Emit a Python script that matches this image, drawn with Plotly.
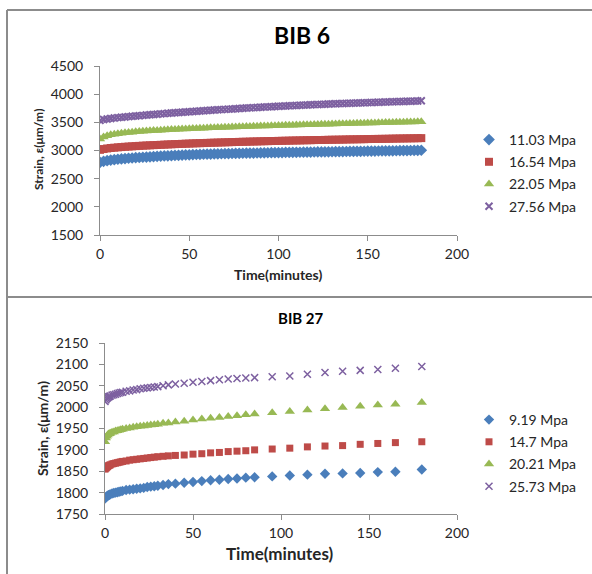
import plotly.graph_objects as go

W, H = 592, 574

# ---------------- BIB 6 data ----------------
time_bib6 = [0, 2, 4, 6, 8, 10, 12, 14, 16, 18, 20, 22, 24, 26, 28, 30, 32, 34, 36, 38,
             40, 42, 44, 46, 48, 50, 52, 54, 56, 58, 60, 62, 64, 66, 68, 70, 72, 74, 76, 78,
             80, 82, 84, 86, 88, 90, 92, 94, 96, 98, 100, 102, 104, 106, 108, 110, 112, 114, 116, 118,
             120, 122, 124, 126, 128, 130, 132, 134, 136, 138, 140, 142, 144, 146, 148, 150, 152, 154, 156, 158,
             160, 162, 164, 166, 168, 170, 172, 174, 176, 178, 180]

strain_11_03 = [2790, 2808, 2820, 2830, 2838, 2845, 2851, 2857, 2862, 2867, 2872, 2876, 2880, 2884, 2888, 2892, 2896, 2899, 2903, 2906,
                2909, 2912, 2915, 2918, 2921, 2924, 2927, 2929, 2931, 2933, 2935, 2937, 2939, 2940, 2942, 2944, 2945, 2947, 2948, 2950,
                2951, 2952, 2954, 2955, 2956, 2957, 2959, 2960, 2961, 2962, 2963, 2964, 2965, 2966, 2967, 2968, 2969, 2970, 2971, 2972,
                2973, 2974, 2975, 2976, 2977, 2978, 2979, 2980, 2981, 2982, 2983, 2984, 2985, 2986, 2987, 2988, 2989, 2990, 2991, 2992,
                2993, 2994, 2995, 2996, 2997, 2998, 2999, 3000, 3001, 3002, 3004]

strain_16_54 = [3012, 3026, 3036, 3044, 3050, 3056, 3061, 3066, 3070, 3074, 3078, 3082, 3086, 3089, 3092, 3095, 3098, 3101, 3104, 3107,
                3110, 3113, 3116, 3118, 3121, 3123, 3126, 3128, 3130, 3132, 3135, 3137, 3139, 3141, 3143, 3145, 3147, 3149, 3151, 3153,
                3155, 3156, 3158, 3160, 3161, 3163, 3165, 3166, 3168, 3169, 3171, 3172, 3174, 3175, 3177, 3178, 3179, 3181, 3182, 3183,
                3185, 3186, 3187, 3188, 3190, 3191, 3192, 3193, 3194, 3196, 3197, 3198, 3199, 3200, 3201, 3203, 3204, 3205, 3206, 3207,
                3208, 3209, 3211, 3212, 3213, 3214, 3215, 3216, 3217, 3218, 3220]

strain_22_05 = [3205, 3240, 3262, 3278, 3290, 3299, 3307, 3314, 3320, 3326, 3331, 3336, 3341, 3345, 3349, 3353, 3357, 3361, 3364, 3368,
                3371, 3374, 3377, 3380, 3383, 3386, 3389, 3392, 3395, 3397, 3400, 3402, 3405, 3407, 3410, 3412, 3414, 3416, 3419, 3421,
                3423, 3425, 3427, 3429, 3431, 3433, 3435, 3437, 3439, 3441, 3443, 3445, 3447, 3448, 3450, 3452, 3454, 3456, 3457, 3459,
                3461, 3463, 3465, 3466, 3468, 3470, 3472, 3474, 3475, 3477, 3479, 3480, 3482, 3484, 3485, 3487, 3489, 3490, 3492, 3493,
                3495, 3497, 3498, 3500, 3501, 3503, 3505, 3506, 3508, 3509, 3512]

strain_27_56 = [3535, 3550, 3560, 3568, 3576, 3583, 3589, 3595, 3601, 3607, 3613, 3618, 3624, 3629, 3635, 3640, 3645, 3650, 3655, 3660,
                3665, 3670, 3674, 3679, 3683, 3688, 3692, 3697, 3701, 3706, 3710, 3714, 3718, 3722, 3726, 3730, 3734, 3738, 3742, 3746,
                3750, 3754, 3757, 3761, 3764, 3768, 3771, 3775, 3778, 3782, 3785, 3788, 3791, 3794, 3797, 3800, 3803, 3806, 3808, 3811,
                3814, 3817, 3819, 3822, 3824, 3827, 3829, 3832, 3834, 3837, 3839, 3841, 3844, 3846, 3848, 3850, 3852, 3854, 3857, 3859,
                3861, 3863, 3865, 3867, 3869, 3871, 3873, 3875, 3877, 3879, 3882]

# ---------------- BIB 27 data ----------------
time_bib27 = [0, 0.5, 1, 1.5, 2, 2.5, 3, 4, 5, 6, 7, 8, 9, 10, 12, 14, 16, 18, 20, 22, 24, 26, 28, 30,
              33, 36, 40, 45, 50, 55, 60, 65, 70, 75, 80, 85, 95, 105, 115, 125, 135, 145, 155, 165, 180]

strain_9_19 = [1786, 1789, 1791, 1793, 1794, 1795, 1796, 1798, 1799, 1800, 1801, 1802, 1803, 1804, 1806, 1807, 1808, 1809, 1810, 1811,
               1813, 1814, 1815, 1816, 1818, 1820, 1821, 1823, 1825, 1827, 1829, 1830, 1832, 1833, 1835, 1836, 1838, 1840, 1842, 1844,
               1845, 1846, 1848, 1849, 1854]

strain_14_7 = [1855, 1857, 1859, 1861, 1863, 1864, 1865, 1867, 1868, 1869, 1870, 1871, 1872, 1873, 1874, 1876, 1877, 1878, 1879, 1880,
               1881, 1882, 1883, 1884, 1885, 1886, 1887, 1888, 1890, 1891, 1893, 1894, 1896, 1897, 1898, 1900, 1902, 1904, 1907, 1909,
               1910, 1913, 1915, 1917, 1919]

strain_20_21 = [1919, 1928, 1932, 1935, 1937, 1938, 1939, 1941, 1942, 1944, 1945, 1946, 1947, 1948, 1950, 1951, 1953, 1954, 1955, 1956,
                1957, 1958, 1959, 1960, 1962, 1963, 1965, 1967, 1970, 1972, 1974, 1976, 1978, 1980, 1982, 1984, 1987, 1990, 1993, 1996,
                1999, 2002, 2005, 2007, 2011]

strain_25_73 = [2013, 2017, 2020, 2022, 2024, 2025, 2026, 2028, 2029, 2030, 2032, 2033, 2034, 2035, 2037, 2038, 2040, 2041, 2043, 2044,
                2045, 2046, 2047, 2048, 2050, 2052, 2054, 2056, 2058, 2060, 2062, 2064, 2066, 2067, 2068, 2069, 2071, 2073, 2077, 2081,
                2084, 2086, 2088, 2091, 2095]

labels_bib6 = ["11.03 Mpa", "16.54 Mpa", "22.05 Mpa", "27.56 Mpa"]
labels_bib27 = ["9.19 Mpa", "14.7 Mpa", "20.21 Mpa", "25.73 Mpa"]

colors = ["#4A7EBB", "#BE4B48", "#98B954", "#7D60A0"]
symbols = ["diamond", "square", "triangle-up", "x-thin"]

FONT = "Lato"
TXT = "#262626"


def px(x):
    return x / W


def py(y):
    return 1 - y / H


fig = go.Figure()

series6 = [strain_11_03, strain_16_54, strain_22_05, strain_27_56]
series27 = [strain_9_19, strain_14_7, strain_20_21, strain_25_73]

sizes6 = [9, 8, 9, 7]
sizes27 = [8, 7, 9, 7]

for i, ys in enumerate(series6):
    mk = dict(symbol=symbols[i], size=sizes6[i], color=colors[i])
    if symbols[i] == "x-thin":
        mk["line"] = dict(color=colors[i], width=2)
    else:
        mk["line"] = dict(width=0)
    fig.add_trace(go.Scatter(x=time_bib6, y=ys, mode="markers", name=labels_bib6[i],
                             marker=mk, xaxis="x", yaxis="y", legend="legend",
                             legendgroup="a%d" % i))

for i, ys in enumerate(series27):
    mk = dict(symbol=symbols[i], size=sizes27[i], color=colors[i])
    if symbols[i] == "x-thin":
        mk["line"] = dict(color=colors[i], width=1.5)
    else:
        mk["line"] = dict(width=0)
    fig.add_trace(go.Scatter(x=time_bib27, y=ys, mode="markers", name=labels_bib27[i],
                             marker=mk, xaxis="x2", yaxis="y2", legend="legend2",
                             legendgroup="b%d" % i))

axis_common = dict(showgrid=False, zeroline=False, showline=True, linecolor="#8C8C8C", linewidth=1,
                   ticks="outside", ticklen=5, tickcolor="#8C8C8C", automargin=False,
                   tickfont=dict(family=FONT, size=14, color=TXT))

fig.update_layout(
    template="none",
    width=W, height=H,
    margin=dict(l=0, r=0, t=0, b=0, pad=0, autoexpand=False),
    paper_bgcolor="white", plot_bgcolor="white",
    showlegend=True,
    xaxis=dict(domain=[px(100), px(457)], range=[0, 200], dtick=50, anchor="y",
               ticklabelstandoff=1, **axis_common),
    yaxis=dict(domain=[py(235), py(66)], range=[1500, 4500], dtick=500, anchor="x",
               ticklabelstandoff=8, **axis_common),
    xaxis2=dict(domain=[px(105), px(457)], range=[0, 200], dtick=50, anchor="y2",
                ticklabelstandoff=1, **axis_common),
    yaxis2=dict(domain=[py(514), py(343)], range=[1750, 2150], dtick=50, anchor="x2",
                ticklabelstandoff=8, **axis_common),
    legend=dict(x=px(469), y=py(173), xanchor="left", yanchor="middle",
                font=dict(family=FONT, size=14, color=TXT), tracegroupgap=1,
                bgcolor="rgba(0,0,0,0)", itemwidth=30),
    legend2=dict(x=px(469), y=py(453), xanchor="left", yanchor="middle",
                 font=dict(family=FONT, size=14, color=TXT), tracegroupgap=1,
                 bgcolor="rgba(0,0,0,0)", itemwidth=30),
)

annotations = [
    dict(text="<b>BIB 6</b>", x=px(302), y=py(35), font=dict(family=FONT, size=23, color="#000")),
    dict(text="<b>BIB 27</b>", x=px(301), y=py(318), font=dict(family=FONT, size=15, color="#000")),
    dict(text="<b>Time(minutes)</b>", x=px(278), y=py(274), font=dict(family=FONT, size=14, color=TXT)),
    dict(text="<b>Time(minutes)</b>", x=px(280), y=py(553), font=dict(family=FONT, size=17, color=TXT)),
    dict(text="<b>Strain, ε(μm/m)</b>", x=px(38), y=py(150), textangle=-90,
         font=dict(family=FONT, size=12, color=TXT)),
    dict(text="<b>Strain, ε(μm/m)</b>", x=px(42), y=py(429), textangle=-90,
         font=dict(family=FONT, size=14, color=TXT)),
]
for a in annotations:
    a.update(xref="paper", yref="paper", showarrow=False, xanchor="center", yanchor="middle")
fig.update_layout(annotations=annotations)

border = dict(color="#8C8C8C", width=2)
fig.update_layout(shapes=[
    dict(type="line", xref="paper", yref="paper", x0=px(7), x1=1, y0=py(10), y1=py(10), line=border),
    dict(type="line", xref="paper", yref="paper", x0=px(7), x1=px(7), y0=py(10), y1=0, line=border),
    dict(type="line", xref="paper", yref="paper", x0=px(7), x1=1, y0=py(297), y1=py(297), line=border),
])

fig.write_html("out.html")
